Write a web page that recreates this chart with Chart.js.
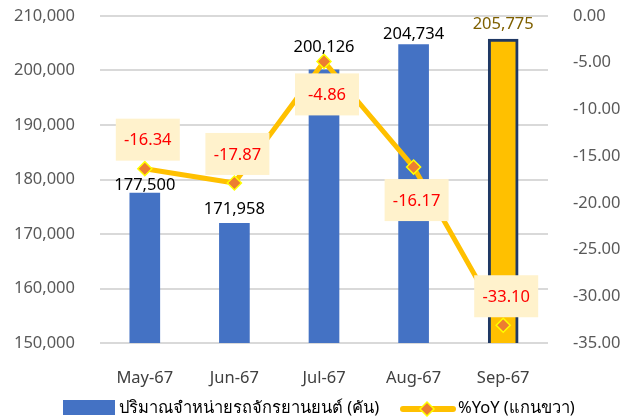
<!DOCTYPE html>
<html><head><meta charset="utf-8">
<script src="https://cdn.jsdelivr.net/npm/chart.js@4.4.1/dist/chart.umd.min.js"></script>
<style>html,body{margin:0;padding:0;background:#fff;}#wrap{width:623px;height:417px;}</style>
</head><body><div id="wrap"><canvas id="c" width="623" height="417"></canvas></div>
<script>
const categories = ['May-67', 'Jun-67', 'Jul-67', 'Aug-67', 'Sep-67'];
const salesUnits = [177500, 171958, 200126, 204734, 205775];
const yoyPct = [-16.34, -17.87, -4.86, -16.17, -33.10];
const barSeriesName = 'ปริมาณจำหน่ายรถจักรยานยนต์ (คัน)';
const lineSeriesName = '%YoY (แกนขวา)';
const leftAxis = { min: 150000, max: 210000, step: 10000 };
const rightAxis = { min: -35, max: 0, step: 5 };

// styling (not data)
const FONT = "'Noto Sans', 'DejaVu Sans', sans-serif";
const barColors = ['#4472C4', '#4472C4', '#4472C4', '#4472C4', '#FFC000'];
const barBorders = ['#4472C4', '#4472C4', '#4472C4', '#4472C4', '#1F3864'];
const barBorderW = [0, 0, 0, 0, 3];
const barLabelColors = ['#000000', '#000000', '#000000', '#000000', '#7F6000'];
const barLabelGap = [6, 12, 20, 8, 12];
const yoyLabelSide = ['top', 'top', 'bottom', 'bottom', 'top'];

const labelPlugin = {
  id: 'labels',
  afterDatasetsDraw(chart) {
    const ctx = chart.ctx;
    ctx.save();
    const bm = chart.getDatasetMeta(1);
    ctx.font = '16.5px ' + FONT;
    ctx.textAlign = 'center';
    ctx.textBaseline = 'bottom';
    bm.data.forEach((el, i) => {
      ctx.fillStyle = barLabelColors[i];
      ctx.fillText(salesUnits[i].toLocaleString('en-US'), el.x, el.y - barLabelGap[i] + 6);
    });
    const lm = chart.getDatasetMeta(0);
    ctx.textBaseline = 'middle';
    lm.data.forEach((el, i) => {
      const txt = yoyPct[i].toFixed(2);
      const w = 64, h = 42;
      const cy = yoyLabelSide[i] === 'top' ? el.y - 8 - h / 2 : el.y + 12 + h / 2;
      const cx = el.x + 3;
      ctx.fillStyle = '#FFF2CC';
      ctx.fillRect(cx - w / 2, cy - h / 2, w, h);
      ctx.fillStyle = '#FF0000';
      ctx.font = '16.5px ' + FONT;
      ctx.fillText(txt, cx, cy + 1);
    });
    ctx.restore();
  },
  afterDraw(chart) {
    const ctx = chart.ctx;
    ctx.save();
    ctx.fillStyle = '#4472C4';
    ctx.fillRect(63, 400, 52, 15);
    ctx.fillStyle = '#000';
    ctx.font = '16.5px ' + FONT;
    ctx.textAlign = 'left';
    ctx.textBaseline = 'middle';
    ctx.fillText(barSeriesName, 119, 408);
    ctx.strokeStyle = '#FFC000';
    ctx.lineWidth = 6;
    ctx.lineCap = 'round';
    ctx.beginPath(); ctx.moveTo(403, 409); ctx.lineTo(453, 409); ctx.stroke();
    ctx.beginPath();
    ctx.moveTo(427, 402); ctx.lineTo(434, 409); ctx.lineTo(427, 416); ctx.lineTo(420, 409); ctx.closePath();
    ctx.fillStyle = '#ED7D31'; ctx.fill();
    ctx.strokeStyle = '#FFFF00'; ctx.lineWidth = 1.5; ctx.stroke();
    ctx.fillStyle = '#000';
    ctx.fillText(lineSeriesName, 458, 408);
    ctx.restore();
  }
};

new Chart(document.getElementById('c'), {
  data: {
    labels: categories,
    datasets: [
      {
        type: 'line', label: lineSeriesName, data: yoyPct, yAxisID: 'y1', order: 0,
        borderColor: '#FFC000', borderWidth: 5, pointStyle: 'rectRot', pointRadius: 7,
        pointBackgroundColor: '#ED7D31', pointBorderColor: '#FFFF00', pointBorderWidth: 1.5,
        tension: 0
      },
      {
        type: 'bar', label: barSeriesName, data: salesUnits, yAxisID: 'y', order: 1,
        backgroundColor: barColors, borderColor: barBorders, borderWidth: barBorderW,
        borderSkipped: false, barThickness: 30
      }
    ]
  },
  options: {
    responsive: false, animation: false, devicePixelRatio: 1,
    layout: { padding: { top: 16, left: 0, right: 0, bottom: 0 } },
    plugins: { legend: { display: false }, tooltip: { enabled: false } },
    scales: {
      x: {
        grid: { display: false }, border: { display: false },
        ticks: { color: '#404040', font: { size: 16.5, family: FONT }, padding: 17 },
        afterFit(s) { s.height = 74; }
      },
      y: {
        position: 'left', min: leftAxis.min, max: leftAxis.max,
        grid: { color: '#D9D9D9', lineWidth: 2, drawTicks: false }, border: { display: false },
        ticks: { stepSize: leftAxis.step, color: '#595959', font: { size: 16.5, family: FONT }, padding: 25,
          callback: v => v.toLocaleString('en-US') },
        afterFit(s) { s.width = 100; s.paddingTop = 0; s.paddingBottom = 0; }
      },
      y1: {
        position: 'right', min: rightAxis.min, max: rightAxis.max,
        grid: { display: false, drawTicks: false }, border: { display: false },
        ticks: { stepSize: rightAxis.step, color: '#595959', font: { size: 16.5, family: FONT }, padding: 25,
          callback: v => Number(v).toFixed(2) },
        afterFit(s) { s.width = 75; s.paddingTop = 0; s.paddingBottom = 0; }
      }
    }
  },
  plugins: [labelPlugin]
});
</script></body></html>
